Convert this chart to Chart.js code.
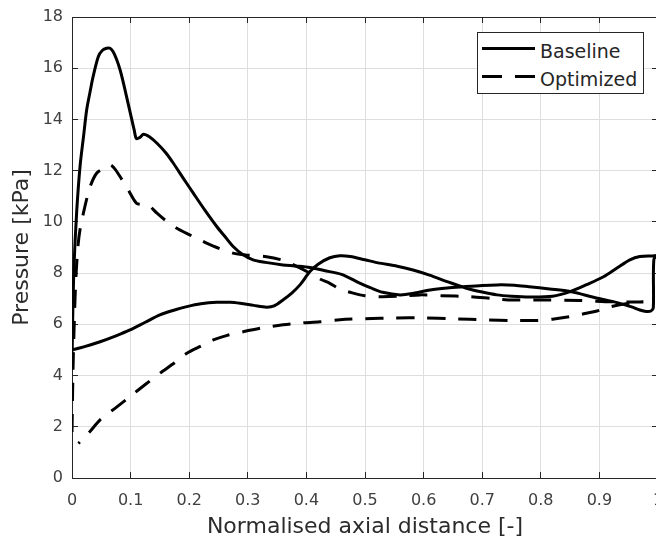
<!DOCTYPE html>
<html>
<head>
<meta charset="utf-8">
<script src="https://cdn.jsdelivr.net/npm/chart.js@4/dist/chart.umd.min.js"></script>
<style>
  html, body { margin: 0; padding: 0; background: #fff; overflow: hidden; }
  #wrap { position: relative; width: 656px; height: 545px; overflow: hidden; }
  #chart { position: absolute; left: 0; top: 0; }
  .legend {
    position: absolute; left: 477px; top: 32px; width: 165px; height: 60px;
    border: 1px solid #262626; background: #fff;
    font-family: "DejaVu Sans", sans-serif; font-size: 19px; line-height: 19px; color: #262626;
  }
  .legend svg { position: absolute; left: 4px; top: 0; }
  .legend span { position: absolute; left: 62px; white-space: nowrap; }
</style>
</head>
<body>
<div id="wrap">
  <canvas id="chart" width="670" height="545"></canvas>
  <div class="legend">
    <svg width="56" height="60">
      <line x1="0" y1="15.5" x2="53" y2="15.5" stroke="#000" stroke-width="3"/>
      <line x1="0" y1="43.5" x2="53" y2="43.5" stroke="#000" stroke-width="3" stroke-dasharray="20 13"/>
    </svg>
    <span style="top:9px">Baseline</span>
    <span style="top:37px">Optimized</span>
  </div>
</div>
<script>
// axis ticks
var xTicks = [0, 0.1, 0.2, 0.3, 0.4, 0.5, 0.6, 0.7, 0.8, 0.9, 1];
var xTickLabels = ['0', '0.1', '0.2', '0.3', '0.4', '0.5', '0.6', '0.7', '0.8', '0.9', '1'];
var yTicks = [0, 2, 4, 6, 8, 10, 12, 14, 16, 18];

// Baseline, branch starting at the high leading edge peak
var baseUpperX = [0, 0.001, 0.0034, 0.008, 0.0137, 0.02, 0.025, 0.031, 0.036, 0.045, 0.052, 0.059, 0.065, 0.07, 0.076, 0.082, 0.088, 0.093, 0.1, 0.106, 0.11, 0.116, 0.122, 0.132, 0.145, 0.16, 0.173, 0.19, 0.207, 0.227, 0.247, 0.262, 0.275, 0.29, 0.309, 0.33, 0.36, 0.38, 0.406, 0.43, 0.46, 0.49, 0.51, 0.53, 0.56, 0.585, 0.611, 0.64, 0.668, 0.7, 0.725, 0.755, 0.78, 0.815, 0.85, 0.89, 0.935, 0.955, 0.969, 0.98, 0.988, 0.992, 0.993];
var baseUpperY = [4.3, 6.0, 8.25, 10.4, 12.16, 13.4, 14.37, 15.1, 15.67, 16.46, 16.7, 16.78, 16.78, 16.65, 16.35, 15.94, 15.4, 14.9, 14.2, 13.6, 13.25, 13.3, 13.42, 13.32, 13.07, 12.7, 12.29, 11.7, 11.12, 10.45, 9.82, 9.4, 9.04, 8.75, 8.52, 8.42, 8.32, 8.28, 8.22, 8.1, 7.95, 7.62, 7.42, 7.25, 7.15, 7.22, 7.34, 7.42, 7.47, 7.52, 7.54, 7.53, 7.47, 7.38, 7.28, 7.06, 6.82, 6.68, 6.56, 6.5, 6.52, 6.65, 8.55];
// Baseline, low branch
var baseLowerX = [0, 0.02, 0.048, 0.075, 0.099, 0.125, 0.15, 0.175, 0.196, 0.22, 0.247, 0.27, 0.287, 0.31, 0.332, 0.345, 0.36, 0.375, 0.389, 0.406, 0.42, 0.44, 0.457, 0.475, 0.5, 0.525, 0.555, 0.582, 0.61, 0.64, 0.673, 0.7, 0.725, 0.75, 0.78, 0.82, 0.85, 0.878, 0.907, 0.93, 0.952, 0.969, 0.99, 1.0];
var baseLowerY = [5.0, 5.12, 5.32, 5.55, 5.78, 6.08, 6.37, 6.56, 6.69, 6.8, 6.86, 6.86, 6.82, 6.74, 6.67, 6.72, 6.95, 7.22, 7.54, 8.06, 8.35, 8.6, 8.68, 8.65, 8.52, 8.39, 8.27, 8.12, 7.92, 7.67, 7.41, 7.26, 7.15, 7.1, 7.07, 7.1, 7.28, 7.55, 7.86, 8.2, 8.52, 8.65, 8.67, 8.68];

// Optimized, high branch
var optUpperX = [0, 0.002, 0.006, 0.01, 0.0137, 0.022, 0.031, 0.042, 0.055, 0.065, 0.072, 0.082, 0.096, 0.11, 0.12, 0.13, 0.145, 0.16, 0.179, 0.2, 0.218, 0.245, 0.275, 0.3, 0.332, 0.36, 0.38, 0.406, 0.425, 0.44, 0.457, 0.48, 0.5, 0.526, 0.56, 0.594, 0.63, 0.68, 0.72, 0.753, 0.81, 0.867, 0.92, 0.95, 0.975];
var optUpperY = [1.8, 4.5, 7.5, 9.0, 9.7, 10.6, 11.38, 11.9, 12.1, 12.23, 12.1, 11.77, 11.25, 10.73, 10.68, 10.66, 10.34, 10.05, 9.75, 9.5, 9.3, 9.02, 8.78, 8.7, 8.64, 8.5, 8.3, 8.0, 7.75, 7.6, 7.38, 7.22, 7.12, 7.08, 7.1, 7.15, 7.12, 7.08, 7.0, 6.95, 6.95, 6.93, 6.88, 6.87, 6.88];
// Optimized, low branch
var optLowerX = [0.011, 0.03, 0.048, 0.075, 0.099, 0.125, 0.15, 0.175, 0.196, 0.22, 0.241, 0.265, 0.292, 0.325, 0.36, 0.39, 0.423, 0.457, 0.5, 0.55, 0.6, 0.65, 0.708, 0.75, 0.793, 0.82, 0.85, 0.875, 0.896, 0.918, 0.945, 0.975];
var optLowerY = [1.35, 1.8, 2.27, 2.75, 3.18, 3.65, 4.09, 4.5, 4.87, 5.15, 5.39, 5.57, 5.71, 5.86, 5.98, 6.05, 6.1, 6.18, 6.22, 6.25, 6.25, 6.22, 6.17, 6.15, 6.15, 6.2, 6.3, 6.42, 6.52, 6.68, 6.8, 6.88];

// one closed path per series: high branch forward, low branch back
function loop(ux, uy, lx, ly) {
    var pts = [];
    for (var i = 0; i < ux.length; i++) pts.push({x: ux[i], y: uy[i]});
    for (var j = lx.length - 1; j >= 0; j--) pts.push({x: lx[j], y: ly[j]});
    return pts;
}

function tickLabel(list, labels) {
    return function (v) {
        for (var i = 0; i < list.length; i++) {
            if (Math.abs(list[i] - v) < 1e-6) return labels[i];
        }
        return '';
    };
}

function fixTicks(list) {
    return function (s) { s.ticks = list.map(function (v) { return {value: v}; }); };
}

// size the axis box and drop the label overhang padding chart.js adds
function fitBox(w, h) {
    return function (s) {
        if (w !== null) s.width = w;
        if (h !== null) s.height = h;
        s.paddingTop = 0; s.paddingBottom = 0; s.paddingLeft = 0; s.paddingRight = 0;
    };
}

var FONT = 'DejaVu Sans';
var AXIS = '#262626';
var GRID = '#dedede';

new Chart(document.getElementById('chart'), {
    type: 'scatter',
    data: {
        datasets: [{
            label: 'Baseline',
            data: loop(baseUpperX, baseUpperY, baseLowerX, baseLowerY),
            showLine: true,
            borderColor: '#000',
            borderWidth: 3,
            pointRadius: 0,
            tension: 0.3
        }, {
            label: 'Optimized',
            data: loop(optUpperX, optUpperY, optLowerX, optLowerY),
            showLine: true,
            borderColor: '#000',
            borderWidth: 3,
            borderDash: [18, 13],
            pointRadius: 0,
            tension: 0.3
        }]
    },
    options: {
        responsive: false,
        devicePixelRatio: 1,
        animation: false,
        layout: {padding: {left: 0, right: 12, top: 17, bottom: 0}},
        plugins: {legend: {display: false}, tooltip: {enabled: false}},
        scales: {
            x: {
                type: 'linear', position: 'bottom', min: 0, max: 1,
                afterBuildTicks: fixTicks(xTicks),
                ticks: {color: '#404040', font: {family: FONT, size: 16}, padding: 19, maxRotation: 0, autoSkip: false,
                        callback: tickLabel(xTicks, xTickLabels)},
                grid: {color: GRID, tickLength: -6, tickColor: AXIS},
                border: {color: AXIS, width: 1},
                title: {display: true, text: 'Normalised axial distance [-]', color: '#2b2b2b',
                        font: {family: FONT, size: 22}, padding: {top: 0, bottom: 5}},
                afterFit: fitBox(null, 67)
            },
            x2: {
                type: 'linear', position: 'top', min: 0, max: 1,
                afterBuildTicks: fixTicks(xTicks),
                ticks: {display: false},
                grid: {drawOnChartArea: false, tickLength: -6, tickColor: AXIS},
                border: {color: AXIS, width: 1},
                afterFit: fitBox(null, 0)
            },
            y: {
                type: 'linear', position: 'left', min: 0, max: 18,
                afterBuildTicks: fixTicks(yTicks),
                ticks: {color: '#404040', font: {family: FONT, size: 16}, padding: 15,
                        callback: tickLabel(yTicks, yTicks.map(String))},
                grid: {color: GRID, tickLength: -6, tickColor: AXIS},
                border: {color: AXIS, width: 1},
                title: {display: true, text: 'Pressure [kPa]', color: '#2b2b2b',
                        font: {family: FONT, size: 22}, padding: {top: 9, bottom: 0}},
                afterFit: fitBox(72, null)
            },
            y2: {
                type: 'linear', position: 'right', min: 0, max: 18,
                afterBuildTicks: fixTicks(yTicks),
                ticks: {display: false},
                grid: {drawOnChartArea: false, tickLength: -6, tickColor: AXIS},
                border: {color: AXIS, width: 1},
                afterFit: fitBox(0, null)
            }
        }
    }
});
</script>
</body>
</html>
